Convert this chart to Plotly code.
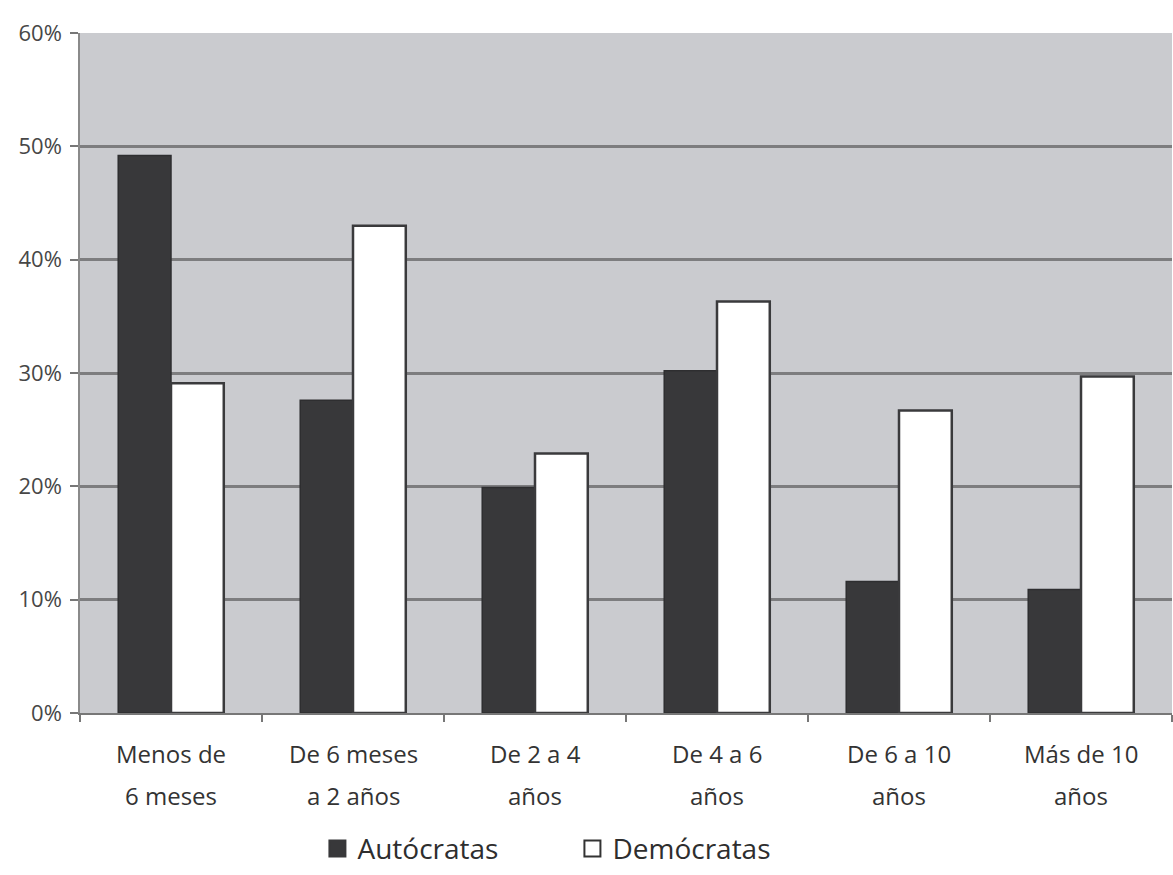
import plotly.graph_objects as go

categories = ["Menos de 6 meses", "De 6 meses a 2 años", "De 2 a 4 años",
              "De 4 a 6 años", "De 6 a 10 años", "Más de 10 años"]
label_line1 = ["Menos de", "De 6 meses", "De 2 a 4", "De 4 a 6", "De 6 a 10", "Más de 10"]
label_line2 = ["6 meses", "a 2 años", "años", "años", "años", "años"]
autocratas = [0.492, 0.276, 0.199, 0.302, 0.116, 0.109]
democratas = [0.291, 0.430, 0.229, 0.363, 0.267, 0.297]
y_ticks = [0, 0.1, 0.2, 0.3, 0.4, 0.5, 0.6]
y_tick_labels = ["0%", "10%", "20%", "30%", "40%", "50%", "60%"]

FONT = "Open Sans, sans-serif"
DARK = "#38383a"

fig = go.Figure()
fig.add_trace(go.Bar(
    name="Autócratas", x=categories, y=autocratas, showlegend=False,
    marker=dict(color=DARK, line=dict(color="#2e2e30", width=1.5)),
))
fig.add_trace(go.Bar(
    name="Demócratas", x=categories, y=democratas, showlegend=False,
    marker=dict(color="#ffffff", line=dict(color="#3a3a3c", width=2.5)),
))

# legend entries with large square swatches
fig.add_trace(go.Scatter(
    name="Autócratas", x=[None], y=[None], mode="markers",
    marker=dict(symbol="square", size=16, color=DARK, line=dict(color=DARK, width=2)),
))
fig.add_trace(go.Scatter(
    name="Demócratas", x=[None], y=[None], mode="markers",
    marker=dict(symbol="square", size=16, color="#ffffff", line=dict(color="#333", width=2)),
))

# two-line category labels below the axis
for cat, l1, l2 in zip(categories, label_line1, label_line2):
    for text, shift in ((l1, -40), (l2, -82)):
        fig.add_annotation(
            x=cat, xref="x", y=0, yref="paper", yanchor="middle", yshift=shift,
            text=text, showarrow=False, font=dict(size=24, color="#333", family=FONT),
        )

fig.update_layout(
    width=1173, height=875,
    margin=dict(l=80, r=1, t=33, b=162, autoexpand=False),
    paper_bgcolor="#ffffff",
    plot_bgcolor="#cacbcf",
    barmode="group",
    bargap=0.42,
    bargroupgap=0,
    font=dict(family=FONT, size=20, color="#3a3a3a"),
    showlegend=True,
    legend=dict(orientation="h", x=0.488, xanchor="center", xref="container",
                y=0.03, yref="container", yanchor="middle",
                font=dict(size=28, color="#2e2e2e"), itemwidth=30,
                entrywidth=210, bgcolor="rgba(0,0,0,0)"),
)
fig.update_xaxes(
    type="category", tickson="boundaries", ticks="outside", ticklen=7,
    tickcolor="#777", tickwidth=1.5, showticklabels=False,
    showline=True, linecolor="#777", linewidth=1.5,
    showgrid=False,
)
fig.update_yaxes(
    range=[0, 0.6], tickvals=y_ticks, ticktext=y_tick_labels,
    ticks="outside", ticklen=8, tickcolor="#777", tickwidth=2,
    ticklabelstandoff=4,
    showline=True, linecolor="#8a8a8a", linewidth=1.5,
    showgrid=True, gridcolor="#7d7d7f", gridwidth=2.5,
    tickfont=dict(size=22, color="#474747"),
    zeroline=False,
)

fig.write_html("out.html")
